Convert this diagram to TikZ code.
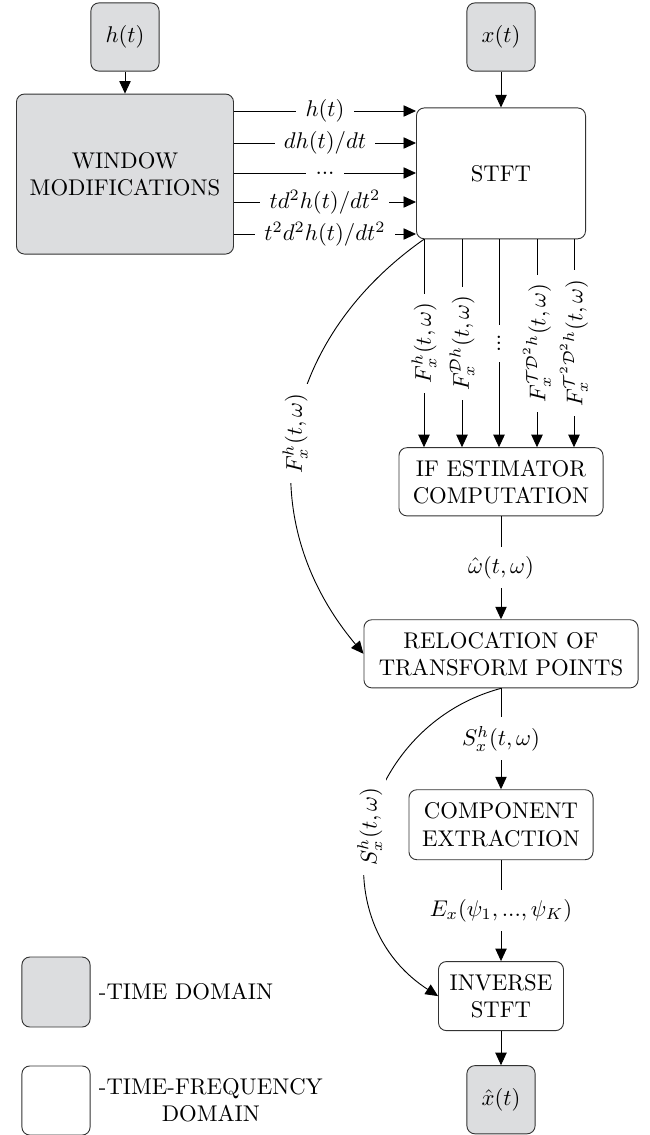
\documentclass[tikz,border=0pt]{standalone}
\usepackage{amsmath}
\usetikzlibrary{arrows.meta, positioning}
\definecolor{domainGray}{HTML}{DCDDDF}
\definecolor{edgeGray}{HTML}{333333}
\newcommand{\midDots}{...}

\begin{document}
\begin{tikzpicture}[
		x=0.44pt, y=0.44pt,
		every node/.style={font=\normalsize},
		box/.style={rounded corners=3.5pt, draw=edgeGray, align=center, inner sep=2pt},
		tdbox/.style={box, fill=domainGray},
		tfbox/.style={box, fill=white},
		arrow/.style={-{Triangle[length=5.5pt, width=5pt]}, draw=black},
		lbl/.style={fill=white, inner xsep=4pt, inner ysep=1.5pt},
		vlbl/.style={fill=white, inner sep=4pt}
	]
		\useasboundingbox (0,0) rectangle (650,-1135);

		% time domain inputs
		\node[tdbox, minimum width=30pt, minimum height=30pt] (ht) at (125,-37) {$h(t)$};
		\node[tdbox, minimum width=95.5pt, minimum height=70.4pt, below=9.7pt of ht] (win) {WINDOW\\MODIFICATIONS};
		\node[tdbox, minimum width=30pt, minimum height=30pt] (xt) at (501,-37) {$x(t)$};

		% main chain
		\node[tfbox, minimum width=74.4pt, minimum height=57.6pt, below=15.8pt of xt] (stft) {STFT};
		\node[tfbox, minimum width=89.8pt, minimum height=30pt, below=91.5pt of stft] (ifest) {IF ESTIMATOR\\COMPUTATION};
		\node[tfbox, minimum width=120.6pt, minimum height=30pt, below=45.3pt of ifest] (reloc) {RELOCATION OF\\TRANSFORM POINTS};
		\node[tfbox, minimum width=81pt, minimum height=30.8pt, below=44.4pt of reloc] (comp) {COMPONENT\\EXTRACTION};
		\node[tfbox, minimum width=55pt, minimum height=30.4pt, below=44.4pt of comp] (inv) {INVERSE\\STFT};
		\node[tdbox, minimum width=30pt, minimum height=30pt, below=15pt of inv] (xhat) {$\hat{x}(t)$};

		% legend
		\node[tdbox, minimum width=30pt, minimum height=30.8pt] (legtd) at (56,-992) {};
		\node[right=1pt of legtd, inner sep=2.5pt] (legtdtxt) {-TIME DOMAIN};
		\node[tfbox, minimum width=30pt, minimum height=30.4pt] (legtf) at (56,-1100.5) {};
		\node[right=1pt of legtf, inner sep=2.5pt, align=center] (legtftxt) {-TIME-FREQUENCY\\DOMAIN};

		\draw[arrow] (ht) -- (win);
		\draw[arrow] (xt) -- (stft);
		\foreach \y/\lab in {111/{h(t)}, 143/{dh(t)/dt}, 173/{\midDots}, 202/{td^2h(t)/dt^2}, 234/{t^2d^2h(t)/dt^2}}
			\draw[arrow] (win.east |- 0,-\y) -- node[lbl]{$\lab$} (stft.west |- 0,-\y);
		\foreach \x/\lab in {424/{F_x^h(t,\omega)}, 462/{F_x^{\mathcal{D}h}(t,\omega)}, 499/{\midDots}, 537/{F_x^{\mathcal{T}\mathcal{D}^2h}(t,\omega)}, 574/{F_x^{\mathcal{T}^2\mathcal{D}^2h}(t,\omega)}}
			\draw[arrow] (stft.south -| \x,0) -- node[lbl, rotate=90]{$\lab$} (ifest.north -| \x,0);

		\draw[arrow] (ifest) -- node[vlbl]{$\hat{\omega}(t,\omega)$} (reloc);
		\draw[arrow] (reloc) -- node[vlbl]{$S_x^h(t,\omega)$} (comp);
		\draw[arrow] (comp) -- node[vlbl]{$E_x(\psi_1,...,\psi_K)$} (inv);
		\draw[arrow] (inv) -- (xhat);

		% bypass curves
		\draw[arrow] (stft.south -| 424,0) to[out=215, in=130, looseness=1.1] node[lbl, rotate=90]{$F_x^h(t,\omega)$} (reloc.west);
		\draw[arrow] (reloc.south) to[out=195, in=147, looseness=1.2] node[lbl, rotate=90]{$S_x^h(t,\omega)$} (inv.west);
	\end{tikzpicture}
\end{document}
